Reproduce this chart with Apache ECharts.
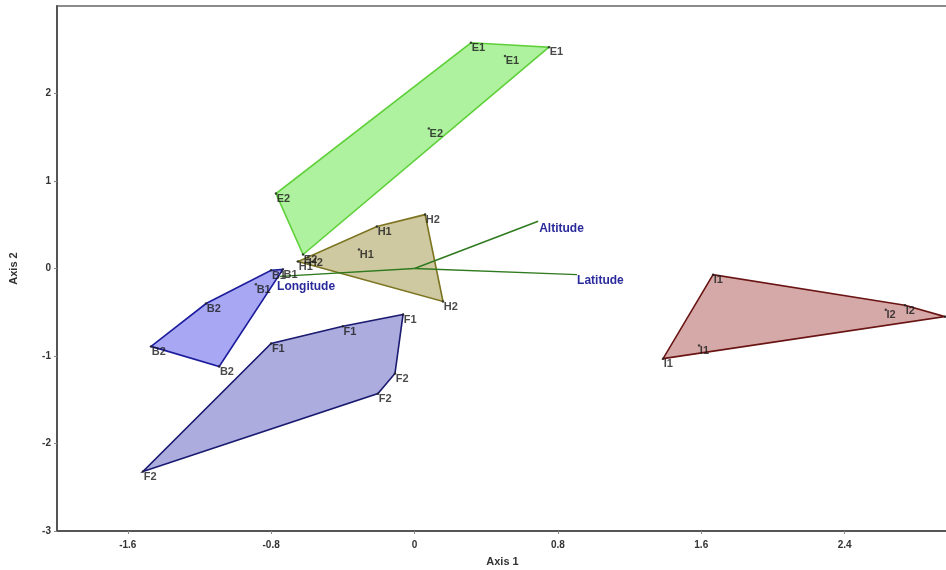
<!DOCTYPE html>
<html>
<head>
<meta charset="utf-8">
<script src="https://cdn.jsdelivr.net/npm/echarts@6/dist/echarts.min.js"></script>
<style>
  html, body { margin: 0; padding: 0; background: #fff; }
  #chart { width: 946px; height: 570px; }
</style>
</head>
<body>
<div id="chart"></div>
<script>
// sample scores: [axis1, axis2, label]
const groupE = [
  [0.315, 2.58, 'E1'], [0.75, 2.53, 'E1'], [0.505, 2.43, 'E1'],
  [0.08, 1.60, 'E2'], [-0.773, 0.856, 'E2'], [-0.622, 0.16, 'E2']
]
const groupH = [
  [-0.21, 0.48, 'H1'], [-0.31, 0.217, 'H1'], [-0.65, 0.08, 'H1'],
  [0.059, 0.616, 'H2'], [0.159, -0.377, 'H2'], [-0.594, 0.126, 'H2']
]
const groupB = [
  [-0.80, -0.02, 'B1'], [-0.735, -0.01, 'B1'], [-0.885, -0.18, 'B1'],
  [-1.163, -0.40, 'B2'], [-1.47, -0.89, 'B2'], [-1.09, -1.12, 'B2']
]
const groupF = [
  [-0.064, -0.525, 'F1'], [-0.40, -0.66, 'F1'], [-0.80, -0.856, 'F1'],
  [-1.515, -2.32, 'F2'], [-0.204, -1.43, 'F2'], [-0.109, -1.20, 'F2']
]
const groupI = [
  [1.666, -0.07, 'I1'], [1.387, -1.03, 'I1'], [1.588, -0.88, 'I1'],
  [2.63, -0.47, 'I2'], [2.737, -0.42, 'I2'], [2.96, -0.55, 'I2']
]
// environmental vectors
const vectors = [
  [0.69, 0.54, 'Altitude'],
  [0.907, -0.07, 'Latitude'],
  [-0.75, -0.09, 'Longitude']
]
const xTicks = [-1.6, -0.8, 0, 0.8, 1.6, 2.4]
const yTicks = [-3, -2, -1, 0, 1, 2]

const groups = [
  { data: groupE, fill: 'rgba(120,232,95,0.6)', stroke: '#5fd03a' },
  { data: groupH, fill: 'rgba(175,165,100,0.6)', stroke: '#7c7420' },
  { data: groupB, fill: 'rgba(130,130,240,0.7)', stroke: '#1c1c9c' },
  { data: groupF, fill: 'rgba(140,140,210,0.72)', stroke: '#1a1a70' },
  { data: groupI, fill: 'rgba(200,140,140,0.75)', stroke: '#6a1414' }
]

function convexHull(pts) {
  const p = pts.map(d => [d[0], d[1]]).sort((a, b) => a[0] - b[0] || a[1] - b[1])
  const cross = (o, a, b) => (a[0] - o[0]) * (b[1] - o[1]) - (a[1] - o[1]) * (b[0] - o[0])
  const lower = []
  for (const q of p) {
    while (lower.length >= 2 && cross(lower[lower.length - 2], lower[lower.length - 1], q) <= 0) lower.pop()
    lower.push(q)
  }
  const upper = []
  for (let i = p.length - 1; i >= 0; i--) {
    const q = p[i]
    while (upper.length >= 2 && cross(upper[upper.length - 2], upper[upper.length - 1], q) <= 0) upper.pop()
    upper.push(q)
  }
  upper.pop(); lower.pop()
  return lower.concat(upper)
}

const series = []

groups.forEach(g => {
  const hull = convexHull(g.data)
  series.push({
    type: 'custom',
    clip: true,
    silent: true,
    data: hull,
    renderItem: (params, api) => {
      if (params.dataIndex !== 0) return
      return {
        type: 'polygon',
        shape: { points: hull.map(p => api.coord(p)) },
        style: { fill: g.fill, stroke: g.stroke, lineWidth: 1.6 }
      }
    }
  })
})

groups.forEach(g => {
  series.push({
    type: 'scatter',
    symbolSize: 2.5,
    itemStyle: { color: '#222' },
    data: g.data.map(d => ({ value: [d[0], d[1]], name: d[2] })),
    label: {
      show: true,
      formatter: '{b}',
      position: [2, 1],
      color: '#1a1a1a',
      fontSize: 11,
      fontWeight: 'bold',
      fontFamily: 'Arial'
    },
    z: 5
  })
})

vectors.forEach(v => {
  series.push({
    type: 'line',
    symbol: 'none',
    silent: true,
    lineStyle: { color: '#2f7a1e', width: 1.5 },
    data: [[0, 0], [v[0], v[1]]],
    endLabel: {
      show: true,
      formatter: v[2],
      color: '#2a2a9c',
      fontSize: 12,
      fontWeight: 'bold',
      fontFamily: 'Arial',
      distance: v[2] === 'Longitude' ? 0 : 3,
      offset: v[2] === 'Longitude' ? [-3, 10] : (v[2] === 'Latitude' ? [-3, 6] : [-2, 7])
    },
    z: 4
  })
})

const chart = echarts.init(document.getElementById('chart'))
chart.setOption({
  animation: false,
  grid: {
    left: 57, right: -2, top: 6, bottom: 39,
    outerBoundsMode: 'none',
    containLabel: false,
    show: true, borderColor: '#666', borderWidth: 1.5
  },
  xAxis: {
    type: 'value',
    min: -1.995,
    max: 2.977,
    name: 'Axis 1',
    nameLocation: 'middle',
    nameGap: 25,
    nameTextStyle: { color: '#333', fontSize: 11, fontWeight: 'bold', fontFamily: 'Arial' },
    splitLine: { show: false },
    axisLine: { onZero: false, lineStyle: { color: '#555', width: 2 } },
    axisTick: { customValues: xTicks, length: 3, lineStyle: { color: '#888' } },
    axisLabel: {
      customValues: xTicks,
      color: '#333', fontSize: 10, fontWeight: 'bold', fontFamily: 'Arial', margin: 9,
      formatter: v => String(Math.round(v * 10) / 10)
    }
  },
  yAxis: {
    type: 'value',
    min: -3,
    max: 3,
    name: 'Axis 2',
    nameLocation: 'middle',
    nameGap: 38,
    nameTextStyle: { color: '#333', fontSize: 11, fontWeight: 'bold', fontFamily: 'Arial' },
    splitLine: { show: false },
    axisLine: { onZero: false, lineStyle: { color: '#555', width: 2 } },
    axisTick: { customValues: yTicks, length: 3, lineStyle: { color: '#888' } },
    axisLabel: {
      customValues: yTicks,
      color: '#333', fontSize: 10, fontWeight: 'bold', fontFamily: 'Arial', margin: 6
    }
  },
  series: series
})
</script>
</body>
</html>
